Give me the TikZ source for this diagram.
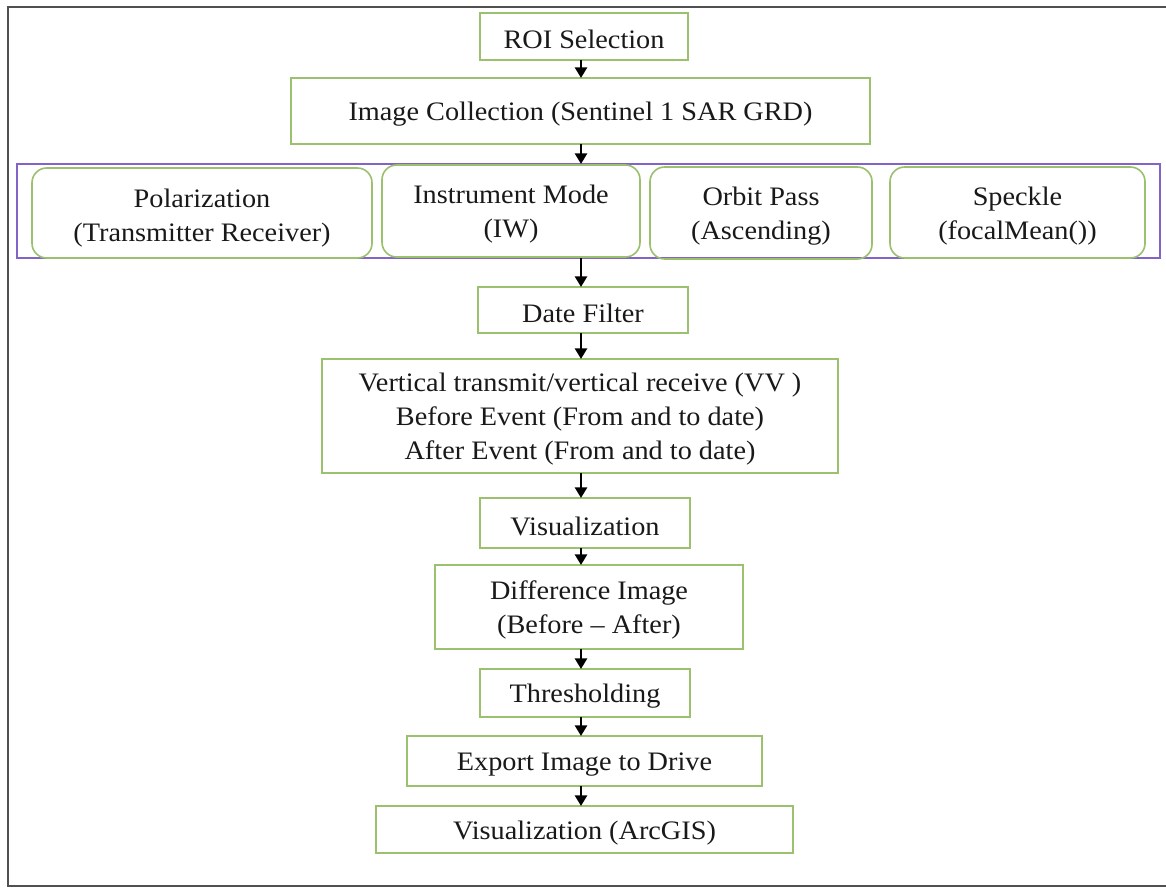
\documentclass[tikz,border=0pt]{standalone}
\usepackage{fontspec}
\setmainfont{Liberation Serif}[FakeStretch=1.06]
\usetikzlibrary{arrows.meta}
\definecolor{boxgreen}{RGB}{155,192,110}
\definecolor{grppurple}{RGB}{130,100,200}
\definecolor{framegray}{RGB}{80,80,80}
\definecolor{txt}{RGB}{25,25,25}
\begin{document}
\begin{tikzpicture}[x=0.75pt,y=-0.75pt,
  every node/.style={inner sep=0pt, outer sep=0pt, text=txt, align=center,
    font=\fontsize{20pt}{25.5pt}\selectfont},
  lbl/.style={yshift=-2.5pt},
  stepbox/.style={draw=boxgreen, line width=1.2pt, rectangle},
  roundbox/.style={draw=boxgreen, line width=1.2pt, rectangle, rounded corners=11pt},
  grpbox/.style={draw=grppurple, line width=1.3pt, rectangle},
  arr/.style={draw=black, line width=2.1pt, -{Triangle[length=8pt,width=9pt]}}]
\useasboundingbox (0,0) rectangle (1166,888);
\fill[white] (0,0) rectangle (1166,888);
% outer frame
\draw[framegray, line width=1.6pt] (1170,7) -- (8,7) -- (8,886) -- (1170,886);
\coordinate (xc) at (581,0);
% boxes
\node[stepbox, minimum width=156pt, minimum height=35.25pt, label={[lbl]center:ROI Selection}] (roi) at (584,36.5) {};
\node[stepbox, minimum width=434.25pt, minimum height=49.5pt, label={[lbl]center:Image Collection (Sentinel 1 SAR GRD)}] (ic) at (580.5,111) {};
\node[grpbox, minimum width=857.25pt, minimum height=70.5pt] (grp) at (588.5,211) {};
\node[roundbox, minimum width=255pt, minimum height=67.5pt, label={[lbl,yshift=-1pt]center:Polarization\\(Transmitter Receiver)}] (pol) at (202,213) {};
\node[roundbox, minimum width=193.5pt, minimum height=69pt, label={[lbl]center:Instrument Mode\\(IW)}] (ins) at (511,211) {};
\node[roundbox, minimum width=166.5pt, minimum height=69pt, label={[lbl]center:Orbit Pass\\(Ascending)}] (orb) at (761,213) {};
\node[roundbox, minimum width=191.25pt, minimum height=68.25pt, label={[lbl]center:Speckle\\(focalMean())}] (spk) at (1017.5,212.5) {};
\node[stepbox, minimum width=157.5pt, minimum height=34.5pt, label={[lbl]center:Date Filter}] (date) at (583,310) {};
\node[stepbox, minimum width=387pt, minimum height=85.5pt, label={[lbl]center:Vertical transmit/vertical receive (VV )\\Before Event (From and to date)\\After Event (From and to date)}] (vv) at (580,416) {};
\node[stepbox, minimum width=157.5pt, minimum height=37.5pt, label={[lbl]center:Visualization}] (vis) at (585,523) {};
\node[stepbox, minimum width=231pt, minimum height=63pt, label={[lbl]center:Difference Image\\(Before -- After)}] (diff) at (589,607) {};
\node[stepbox, minimum width=157.5pt, minimum height=36pt, label={[lbl]center:Thresholding}] (thr) at (585,693) {};
\node[stepbox, minimum width=266.25pt, minimum height=37.5pt, label={[lbl]center:Export Image to Drive}] (exp) at (584.5,761) {};
\node[stepbox, minimum width=312.75pt, minimum height=35.25pt, label={[lbl]center:Visualization (ArcGIS)}] (arc) at (584.5,829.5) {};
% arrows
\draw[arr] (roi.south -| xc) -- (ic.north -| xc);
\draw[arr] (ic.south -| xc) -- (grp.north -| xc);
\draw[arr] (grp.south -| xc) -- (date.north -| xc);
\draw[arr] (date.south -| xc) -- (vv.north -| xc);
\draw[arr] (vv.south -| xc) -- (vis.north -| xc);
\draw[arr] (vis.south -| xc) -- (diff.north -| xc);
\draw[arr] (diff.south -| xc) -- (thr.north -| xc);
\draw[arr] (thr.south -| xc) -- (exp.north -| xc);
\draw[arr] (exp.south -| xc) -- (arc.north -| xc);
\end{tikzpicture}
\end{document}
